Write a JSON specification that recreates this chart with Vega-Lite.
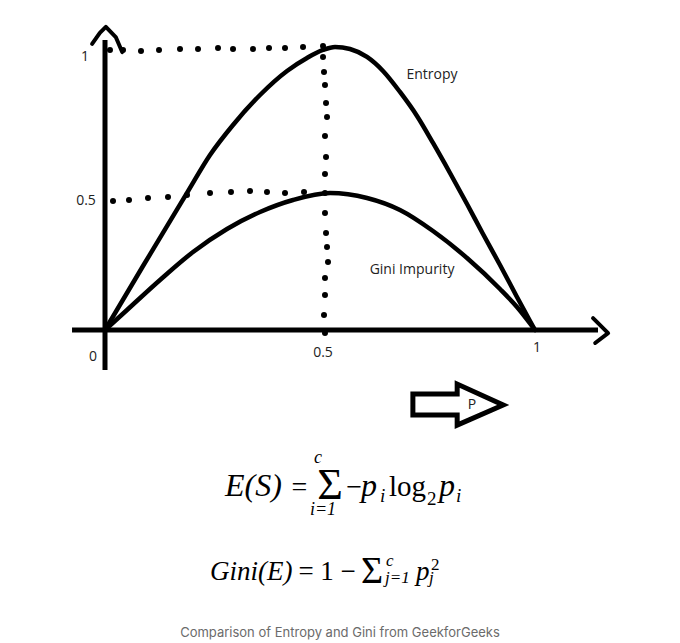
{
  "$schema": "https://vega.github.io/schema/vega-lite/v6.json",
  "width": 680,
  "height": 643,
  "autosize": {"type": "none"},
  "padding": 0,
  "background": "white",
  "config": {"view": {"stroke": null}},
  "encoding": {
    "x": {"field": "p", "type": "quantitative", "scale": {"domain": [-0.2442, 1.3372], "nice": false, "zero": false}, "axis": null},
    "y": {"field": "v", "type": "quantitative", "scale": {"domain": [-1.106, 1.166], "nice": false, "zero": false}, "axis": null}
  },
  "layer": [
    {
      "data": {"values": [
        {"p": 0.0116, "v": 0.9894}, {"p": 0.0419, "v": 0.9894}, {"p": 0.0837, "v": 0.9859}, {"p": 0.1256, "v": 0.9894},
        {"p": 0.1744, "v": 0.9929}, {"p": 0.2163, "v": 0.9929}, {"p": 0.2628, "v": 0.9965}, {"p": 0.2977, "v": 0.9929},
        {"p": 0.3442, "v": 0.9929}, {"p": 0.3814, "v": 0.9965}, {"p": 0.4186, "v": 0.9965}, {"p": 0.4605, "v": 1.0},
        {"p": 0.5070, "v": 1.0035},
        {"p": 0.0186, "v": 0.4558}, {"p": 0.0558, "v": 0.4594}, {"p": 0.1, "v": 0.4664}, {"p": 0.1465, "v": 0.4700},
        {"p": 0.1907, "v": 0.4770}, {"p": 0.2442, "v": 0.4841}, {"p": 0.2930, "v": 0.4876}, {"p": 0.3372, "v": 0.4912},
        {"p": 0.3767, "v": 0.4876}, {"p": 0.4186, "v": 0.4841}, {"p": 0.4628, "v": 0.4876}, {"p": 0.5116, "v": 0.4841},
        {"p": 0.5070, "v": 0.9647}, {"p": 0.5093, "v": 0.9117}, {"p": 0.5116, "v": 0.8657}, {"p": 0.5140, "v": 0.8021},
        {"p": 0.5163, "v": 0.7527}, {"p": 0.5116, "v": 0.6855}, {"p": 0.5140, "v": 0.6113}, {"p": 0.5116, "v": 0.5512},
        {"p": 0.5116, "v": 0.4134}, {"p": 0.5140, "v": 0.3428}, {"p": 0.5163, "v": 0.2933}, {"p": 0.5186, "v": 0.2403},
        {"p": 0.5116, "v": 0.1837}, {"p": 0.5116, "v": 0.1237}, {"p": 0.5093, "v": 0.0530}, {"p": 0.5116, "v": -0.0106}
      ]},
      "mark": {"type": "point", "filled": true, "shape": "circle", "size": 36, "color": "black", "opacity": 1}
    },
    {
      "data": {"values": [
        {"part": "xaxis", "i": 0, "p": -0.0767, "v": 0}, {"part": "xaxis", "i": 1, "p": 1.1465, "v": 0},
        {"part": "yaxis", "i": 0, "p": 0, "v": 1.0247}, {"part": "yaxis", "i": 1, "p": 0, "v": -0.1413}
      ]},
      "mark": {"type": "line", "color": "black", "strokeWidth": 5, "strokeCap": "butt"},
      "encoding": {"detail": {"field": "part"}, "order": {"field": "i"}}
    },
    {
      "data": {"values": [
        {"part": "yarrow", "i": 0, "p": -0.030, "v": 1.011}, {"part": "yarrow", "i": 1, "p": -0.012, "v": 1.050},
        {"part": "yarrow", "i": 2, "p": 0.002, "v": 1.071}, {"part": "yarrow", "i": 3, "p": 0.025, "v": 1.035},
        {"part": "yarrow", "i": 4, "p": 0.040, "v": 0.982},
        {"part": "xarrow", "i": 0, "p": 1.135, "v": 0.042}, {"part": "xarrow", "i": 1, "p": 1.170, "v": -0.011},
        {"part": "xarrow", "i": 2, "p": 1.140, "v": -0.046}
      ]},
      "mark": {"type": "line", "color": "black", "strokeWidth": 4, "strokeJoin": "round", "strokeCap": "round"},
      "encoding": {"detail": {"field": "part"}, "order": {"field": "i"}}
    },
    {
      "data": {"values": [
        {"part": "block", "i": 0, "p": 0.716, "v": -0.226}, {"part": "block", "i": 1, "p": 0.819, "v": -0.226},
        {"part": "block", "i": 2, "p": 0.819, "v": -0.191}, {"part": "block", "i": 3, "p": 0.926, "v": -0.265},
        {"part": "block", "i": 4, "p": 0.819, "v": -0.336}, {"part": "block", "i": 5, "p": 0.819, "v": -0.300},
        {"part": "block", "i": 6, "p": 0.716, "v": -0.300}, {"part": "block", "i": 7, "p": 0.716, "v": -0.226}
      ]},
      "mark": {"type": "line", "color": "black", "strokeWidth": 5, "strokeJoin": "miter", "strokeCap": "square"},
      "encoding": {"detail": {"field": "part"}, "order": {"field": "i"}}
    },
    {
      "data": {"values": [
        {"series": "Entropy", "p": 0, "v": 0}, {"series": "Entropy", "p": 0.0884, "v": 0.2261},
        {"series": "Entropy", "p": 0.1907, "v": 0.4841}, {"series": "Entropy", "p": 0.2442, "v": 0.6184},
        {"series": "Entropy", "p": 0.2977, "v": 0.7244}, {"series": "Entropy", "p": 0.3605, "v": 0.8304},
        {"series": "Entropy", "p": 0.4233, "v": 0.9152}, {"series": "Entropy", "p": 0.4698, "v": 0.9611},
        {"series": "Entropy", "p": 0.5070, "v": 0.9894}, {"series": "Entropy", "p": 0.5349, "v": 1.0},
        {"series": "Entropy", "p": 0.5698, "v": 0.9929}, {"series": "Entropy", "p": 0.6093, "v": 0.9647},
        {"series": "Entropy", "p": 0.6465, "v": 0.9152}, {"series": "Entropy", "p": 0.6860, "v": 0.8410},
        {"series": "Entropy", "p": 0.7256, "v": 0.7562}, {"series": "Entropy", "p": 0.7628, "v": 0.6608},
        {"series": "Entropy", "p": 0.8023, "v": 0.5548}, {"series": "Entropy", "p": 0.8419, "v": 0.4452},
        {"series": "Entropy", "p": 0.8791, "v": 0.3392}, {"series": "Entropy", "p": 0.9186, "v": 0.2297},
        {"series": "Entropy", "p": 0.9581, "v": 0.1166}, {"series": "Entropy", "p": 0.9884, "v": 0.0318},
        {"series": "Entropy", "p": 1.0, "v": 0},
        {"series": "Gini", "p": 0, "v": 0}, {"series": "Gini", "p": 0.0512, "v": 0.0707},
        {"series": "Gini", "p": 0.1279, "v": 0.1767}, {"series": "Gini", "p": 0.2047, "v": 0.2756},
        {"series": "Gini", "p": 0.2837, "v": 0.3569}, {"series": "Gini", "p": 0.3605, "v": 0.4170},
        {"series": "Gini", "p": 0.4372, "v": 0.4594}, {"series": "Gini", "p": 0.5233, "v": 0.4841},
        {"series": "Gini", "p": 0.6093, "v": 0.4664}, {"series": "Gini", "p": 0.6860, "v": 0.4240},
        {"series": "Gini", "p": 0.7628, "v": 0.3498}, {"series": "Gini", "p": 0.8419, "v": 0.2544},
        {"series": "Gini", "p": 0.9186, "v": 0.1449}, {"series": "Gini", "p": 0.9581, "v": 0.0813},
        {"series": "Gini", "p": 1.0, "v": 0}
      ]},
      "mark": {"type": "line", "color": "black", "strokeWidth": 4.5, "interpolate": "monotone", "strokeCap": "round"},
      "encoding": {"detail": {"field": "series"}}
    },
    {
      "data": {"values": [
        {"t": "1", "p": -0.0465, "v": 0.9647},
        {"t": "0.5", "p": -0.0442, "v": 0.4558},
        {"t": "0", "p": -0.0279, "v": -0.0954},
        {"t": "0.5", "p": 0.5070, "v": -0.0813},
        {"t": "1", "p": 1.0047, "v": -0.0636},
        {"t": "Entropy", "p": 0.7605, "v": 0.9011},
        {"t": "Gini Impurity", "p": 0.7140, "v": 0.2120},
        {"t": "P", "p": 0.8535, "v": -0.2650}
      ]},
      "mark": {"type": "text", "font": "Open Sans", "fontSize": 14, "color": "#222222", "align": "center", "baseline": "middle"},
      "encoding": {"text": {"field": "t"}}
    },
    {
      "data": {"values": [
        {"t": "E(S)", "p": 0.2791, "v": -0.5866},
        {"t": "p", "p": 0.5953, "v": -0.5866},
        {"t": "p", "p": 0.7767, "v": -0.5866}
      ]},
      "mark": {"type": "text", "font": "Liberation Serif", "fontStyle": "italic", "fontSize": 32, "color": "black", "align": "left", "baseline": "alphabetic"},
      "encoding": {"text": {"field": "t"}}
    },
    {
      "data": {"values": [
        {"t": "=", "p": 0.4523, "v": -0.5866},
        {"t": "\u2212", "p": 0.5791, "v": -0.5866}
      ]},
      "mark": {"type": "text", "font": "Liberation Serif", "fontSize": 28, "color": "black", "align": "center", "baseline": "alphabetic"},
      "encoding": {"text": {"field": "t"}}
    },
    {
      "data": {"values": [
        {"t": "log", "p": 0.6605, "v": -0.5866}
      ]},
      "mark": {"type": "text", "font": "Liberation Serif", "fontSize": 29, "color": "black", "align": "left", "baseline": "alphabetic"},
      "encoding": {"text": {"field": "t"}}
    },
    {
      "data": {"values": [
        {"t": "\u03a3", "p": 0.5233, "v": -0.5972}
      ]},
      "mark": {"type": "text", "font": "Liberation Serif", "fontSize": 44, "color": "black", "align": "center", "baseline": "alphabetic"},
      "encoding": {"text": {"field": "t"}}
    },
    {
      "data": {"values": [
        {"t": "c", "p": 0.4953, "v": -0.4700},
        {"t": "i=1", "p": 0.5070, "v": -0.6537}
      ]},
      "mark": {"type": "text", "font": "Liberation Serif", "fontStyle": "italic", "fontSize": 18, "color": "black", "align": "center", "baseline": "alphabetic"},
      "encoding": {"text": {"field": "t"}}
    },
    {
      "data": {"values": [
        {"t": "i", "p": 0.6395, "v": -0.6078},
        {"t": "i", "p": 0.8163, "v": -0.6078}
      ]},
      "mark": {"type": "text", "font": "Liberation Serif", "fontStyle": "italic", "fontSize": 19, "color": "black", "align": "left", "baseline": "alphabetic"},
      "encoding": {"text": {"field": "t"}}
    },
    {
      "data": {"values": [
        {"t": "2", "p": 0.7488, "v": -0.6184}
      ]},
      "mark": {"type": "text", "font": "Liberation Serif", "fontSize": 19, "color": "black", "align": "left", "baseline": "alphabetic"},
      "encoding": {"text": {"field": "t"}}
    },
    {
      "data": {"values": [
        {"t": "Gini(E)", "p": 0.2442, "v": -0.8834},
        {"t": "p", "p": 0.7233, "v": -0.8834}
      ]},
      "mark": {"type": "text", "font": "Liberation Serif", "fontStyle": "italic", "fontSize": 27, "color": "black", "align": "left", "baseline": "alphabetic"},
      "encoding": {"text": {"field": "t"}}
    },
    {
      "data": {"values": [
        {"t": "=", "p": 0.4674, "v": -0.8834},
        {"t": "1", "p": 0.5163, "v": -0.8834},
        {"t": "\u2212", "p": 0.5651, "v": -0.8834}
      ]},
      "mark": {"type": "text", "font": "Liberation Serif", "fontSize": 27, "color": "black", "align": "center", "baseline": "alphabetic"},
      "encoding": {"text": {"field": "t"}}
    },
    {
      "data": {"values": [
        {"t": "\u03a3", "p": 0.5953, "v": -0.8940}
      ]},
      "mark": {"type": "text", "font": "Liberation Serif", "fontSize": 38, "color": "black", "align": "left", "baseline": "alphabetic"},
      "encoding": {"text": {"field": "t"}}
    },
    {
      "data": {"values": [
        {"t": "c", "p": 0.6535, "v": -0.8339},
        {"t": "j=1", "p": 0.6512, "v": -0.8940},
        {"t": "j", "p": 0.7535, "v": -0.8940}
      ]},
      "mark": {"type": "text", "font": "Liberation Serif", "fontStyle": "italic", "fontSize": 17, "color": "black", "align": "left", "baseline": "alphabetic"},
      "encoding": {"text": {"field": "t"}}
    },
    {
      "data": {"values": [
        {"t": "2", "p": 0.7581, "v": -0.8481}
      ]},
      "mark": {"type": "text", "font": "Liberation Serif", "fontSize": 17, "color": "black", "align": "left", "baseline": "alphabetic"},
      "encoding": {"text": {"field": "t"}}
    },
    {
      "data": {"values": [
        {"t": "Comparison of Entropy and Gini from GeekforGeeks", "p": 0.5465, "v": -1.0707}
      ]},
      "mark": {"type": "text", "font": "Inter", "fontSize": 13, "color": "#6b6b6b", "align": "center", "baseline": "middle"},
      "encoding": {"text": {"field": "t"}}
    }
  ]
}
